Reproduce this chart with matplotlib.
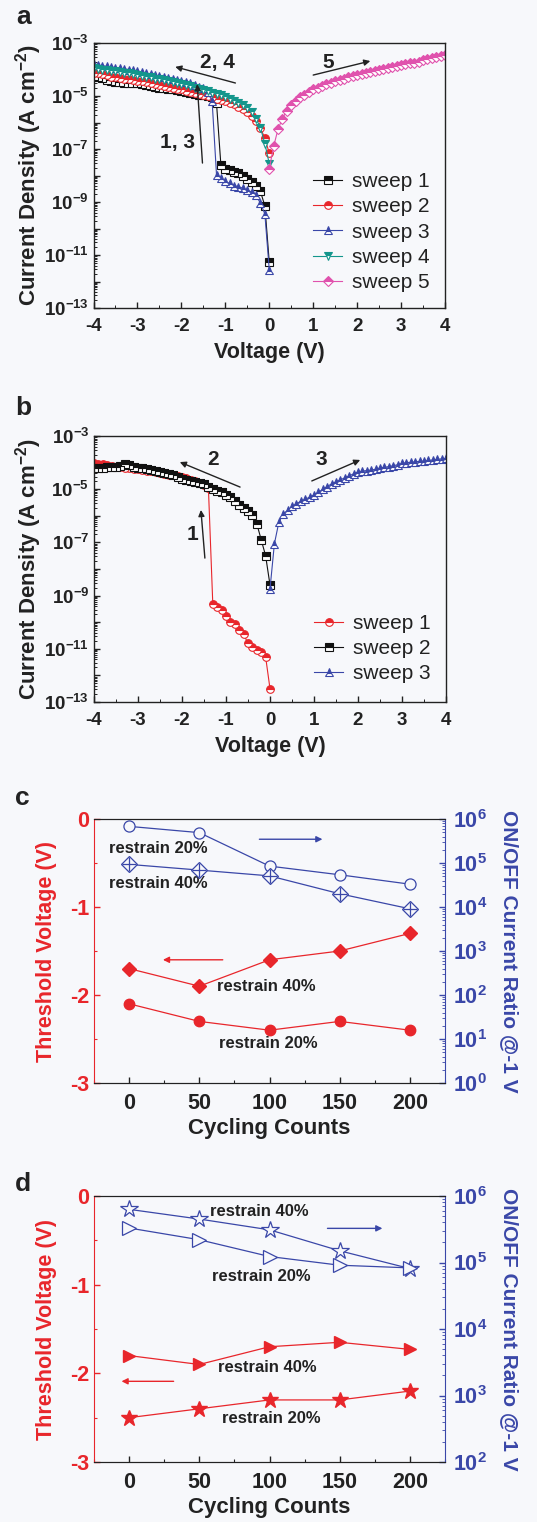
import numpy as np
import matplotlib
matplotlib.use('Agg')
import matplotlib.pyplot as plt
from matplotlib.ticker import FixedLocator, FuncFormatter, LogLocator, NullFormatter, MultipleLocator

plt.rcParams['font.family'] = ['Liberation Sans', 'DejaVu Sans']
plt.rcParams['font.weight'] = 'bold'
plt.rcParams['axes.labelweight'] = 'bold'
plt.rcParams['axes.unicode_minus'] = False
plt.rcParams['mathtext.fontset'] = 'custom'
plt.rcParams['mathtext.rm'] = 'Liberation Sans:bold'
plt.rcParams['mathtext.bf'] = 'Liberation Sans:bold'
plt.rcParams['mathtext.it'] = 'Liberation Sans:bold'
plt.rcParams['mathtext.default'] = 'rm'
for k in ['text.color', 'axes.labelcolor', 'xtick.color', 'ytick.color', 'axes.edgecolor']:
    plt.rcParams[k] = '#222222'

# ---------------- data: panel a (log10 of current density) ----------------
V_rev = np.linspace(0, -4, 41)   # 0 -> -4 V sweeps
V_fwd = np.linspace(0, 4, 41)    # 0 -> +4 V sweep

a_sweep1 = [-11.27, -9.15, -8.6, -8.4, -8.25, -8.12, -8.0, -7.9, -7.85, -7.8, -7.75, -7.62,
            -5.28, -5.05, -5.0, -4.98, -4.95, -4.92, -4.88, -4.85, -4.8, -4.78, -4.75, -4.72,
            -4.7, -4.68, -4.65, -4.62, -4.58, -4.55, -4.52, -4.52, -4.5, -4.5, -4.48, -4.47,
            -4.42, -4.38, -4.32, -4.28, -4.25]
a_sweep2 = [-7.15, -6.6, -6.2, -5.95, -5.75, -5.6, -5.5, -5.4, -5.32, -5.25, -5.2, -5.15,
            -5.1, -5.05, -5.0, -4.97, -4.93, -4.9, -4.85, -4.8, -4.75, -4.72, -4.7, -4.65,
            -4.62, -4.58, -4.55, -4.52, -4.48, -4.45, -4.42, -4.4, -4.37, -4.35, -4.32, -4.3,
            -4.27, -4.22, -4.18, -4.15, -4.12]
a_sweep3 = [-11.55, -9.45, -9.05, -8.75, -8.62, -8.55, -8.48, -8.42, -8.38, -8.3, -8.22, -8.1,
            -7.98, -5.2, -4.85, -4.7, -4.65, -4.6, -4.52, -4.48, -4.42, -4.38, -4.35, -4.32,
            -4.28, -4.25, -4.22, -4.18, -4.15, -4.1, -4.05, -4.03, -4.0, -3.98, -3.95, -3.93,
            -3.9, -3.88, -3.86, -3.83, -3.81]
a_sweep4 = [-7.55, -6.8, -6.2, -5.85, -5.6, -5.45, -5.35, -5.25, -5.18, -5.1, -5.03, -4.98,
            -4.93, -4.88, -4.83, -4.78, -4.73, -4.68, -4.63, -4.58, -4.53, -4.5, -4.47, -4.43,
            -4.4, -4.37, -4.34, -4.3, -4.27, -4.24, -4.2, -4.17, -4.14, -4.12, -4.1, -4.07,
            -4.05, -4.02, -4.0, -3.98, -3.96]
a_sweep5 = [-7.75, -6.9, -6.25, -5.85, -5.55, -5.35, -5.2, -5.05, -4.95, -4.85, -4.75, -4.68,
            -4.62, -4.55, -4.5, -4.45, -4.4, -4.35, -4.3, -4.25, -4.2, -4.17, -4.13, -4.1,
            -4.06, -4.02, -3.98, -3.95, -3.91, -3.88, -3.84, -3.81, -3.77, -3.74, -3.7, -3.66,
            -3.62, -3.58, -3.54, -3.5, -3.46]

# ---------------- data: panel b ----------------
b_sweep1 = [-12.5, -11.3, -11.12, -11.03, -10.93, -10.8, -10.45, -10.3, -10.08, -10.0, -9.78,
            -9.55, -9.42, -9.32, -4.95, -4.85, -4.78, -4.7, -4.65, -4.58, -4.53, -4.5, -4.47,
            -4.45, -4.42, -4.38, -4.35, -4.33, -4.3, -4.28, -4.25, -4.23, -4.22, -4.2, -4.18,
            -4.16, -4.13, -4.1, -4.07, -4.05, -4.03]
b_sweep2 = [-8.6, -7.5, -6.9, -6.3, -5.98, -5.83, -5.72, -5.6, -5.45, -5.3, -5.22, -5.12,
            -5.05, -4.98, -4.9, -4.82, -4.77, -4.72, -4.68, -4.65, -4.6, -4.55, -4.48, -4.42,
            -4.38, -4.35, -4.3, -4.28, -4.25, -4.22, -4.2, -4.15, -4.1, -4.05, -4.12, -4.15,
            -4.17, -4.18, -4.19, -4.2, -4.21]
b_sweep3 = [-8.75, -7.05, -6.25, -5.92, -5.8, -5.65, -5.55, -5.45, -5.38, -5.3, -5.22, -5.12,
            -5.0, -4.9, -4.8, -4.72, -4.65, -4.57, -4.5, -4.42, -4.35, -4.32, -4.3, -4.28,
            -4.25, -4.2, -4.18, -4.15, -4.12, -4.08, -4.03, -4.0, -3.99, -3.97, -3.95, -3.94,
            -3.92, -3.9, -3.88, -3.86, -3.84]

# ---------------- data: panels c, d ----------------
cycles = [0, 50, 100, 150, 200]
c_vth_40 = [-1.7, -1.9, -1.6, -1.5, -1.3]
c_vth_20 = [-2.1, -2.3, -2.4, -2.3, -2.4]
c_ratio_20 = [6.8e5, 4.9e5, 8.5e4, 5.4e4, 3.3e4]
c_ratio_40 = [9.3e4, 6.9e4, 5.1e4, 2.0e4, 9.1e3]

d_vth_40 = [-1.8, -1.9, -1.7, -1.65, -1.73]
d_vth_20 = [-2.5, -2.4, -2.3, -2.3, -2.2]
d_ratio_40 = [6.3e5, 4.5e5, 3.1e5, 1.5e5, 8.1e4]
d_ratio_20 = [3.3e5, 2.2e5, 1.23e5, 9.1e4, 8.3e4]

# ---------------- styling ----------------
BG = '#f7f8fb'
RED = '#e8262b'
BLUE = '#3a47a8'
TEAL = '#13968c'
PINK = '#e052ad'
BLACK = '#111111'
TICKFS = 13.5
LABFS = 15.5

fig = plt.figure(figsize=(5.37, 15.22), dpi=100, facecolor=BG)
W, H = 537.0, 1522.0


def add_ax(l, t, r, b):
    return fig.add_axes([l / W, 1 - b / H, (r - l) / W, (b - t) / H], facecolor=BG)


def iv_axes(ax):
    ax.set_yscale('log')
    ax.set_xlim(-4, 4)
    ax.set_ylim(1e-13, 1e-3)
    ax.set_xticks(range(-4, 5))
    ax.set_xticklabels([str(v) for v in range(-4, 5)])
    ax.xaxis.set_minor_locator(MultipleLocator(0.5))
    ax.yaxis.set_major_locator(FixedLocator([10.0 ** e for e in range(-13, -2)]))
    ax.yaxis.set_major_formatter(FuncFormatter(
        lambda v, p: (r'$10^{%d}$' % round(np.log10(v))) if round(np.log10(v)) % 2 else ''))
    ax.yaxis.set_minor_locator(LogLocator(base=10, subs=np.arange(2, 10), numticks=50))
    ax.yaxis.set_minor_formatter(NullFormatter())
    ax.tick_params(which='both', direction='in', top=False, right=False, labelsize=TICKFS)
    ax.tick_params(axis='x', which='major', pad=7)
    ax.tick_params(which='major', length=4, width=1)
    ax.tick_params(which='minor', length=2, width=0.7)
    ax.set_xlabel('Voltage (V)', fontsize=LABFS, labelpad=5)
    ax.set_ylabel(r'Current Density (A cm$^{-2}$)', fontsize=LABFS + 0.5, labelpad=0)
    for s in ax.spines.values():
        s.set_linewidth(1.0)


def sweep(ax, x, logy, color, marker, label, ms=5.5):
    ax.plot(x, 10.0 ** np.array(logy), color=color, lw=0.8, marker=marker, ms=ms,
            mew=0.8, fillstyle='top', mfc=color, mfcalt='white', mec=color, label=label)


def arrow(ax, start, end, color='#222222'):
    ax.annotate('', xy=end, xytext=start,
                arrowprops=dict(arrowstyle='-|>', color=color, lw=1.0, mutation_scale=9,
                                shrinkA=0, shrinkB=0))


LEG = dict(loc='lower left', frameon=False, handlelength=1.4, handletextpad=0.45,
           labelspacing=0.3, borderpad=0.0, borderaxespad=0.0,
           prop={'weight': 'normal', 'size': 15})

# ---------------- panel a ----------------
axa = add_ax(93.5, 43, 445, 308)
sweep(axa, V_rev, a_sweep1, BLACK, 's', 'sweep 1')
sweep(axa, V_rev, a_sweep2, RED, 'o', 'sweep 2')
sweep(axa, V_rev, a_sweep3, BLUE, '^', 'sweep 3')
sweep(axa, V_rev, a_sweep4, TEAL, 'v', 'sweep 4')
sweep(axa, V_fwd, a_sweep5, PINK, 'D', 'sweep 5', ms=5)
iv_axes(axa)
axa.text(-1.18, 10 ** -3.75, '2, 4', fontsize=15, ha='center', va='center')
arrow(axa, (-0.77, 10 ** -4.51), (-2.14, 10 ** -3.9))
axa.text(1.34, 10 ** -3.72, '5', fontsize=15, ha='center', va='center')
arrow(axa, (1.0, 10 ** -4.21), (2.3, 10 ** -3.68))
axa.text(-2.09, 10 ** -6.77, '1, 3', fontsize=15, ha='center', va='center')
arrow(axa, (-1.52, 10 ** -7.53), (-1.64, 10 ** -4.55))
axa.legend(bbox_to_anchor=(0.625, 0.06), **LEG)
fig.text(16 / W, 1 - 17 / H, 'a', fontsize=19, fontweight='bold', va='center', ha='left')

# ---------------- panel b ----------------
axb = add_ax(94, 436, 446, 702)
sweep(axb, V_rev, b_sweep1, RED, 'o', 'sweep 1')
sweep(axb, V_rev, b_sweep2, BLACK, 's', 'sweep 2')
sweep(axb, V_fwd, b_sweep3, BLUE, '^', 'sweep 3')
iv_axes(axb)
axb.text(-1.3, 10 ** -3.9, '2', fontsize=15, ha='center', va='center')
arrow(axb, (-0.68, 10 ** -4.92), (-2.05, 10 ** -3.98))
axb.text(1.16, 10 ** -3.9, '3', fontsize=15, ha='center', va='center')
arrow(axb, (0.95, 10 ** -4.69), (2.05, 10 ** -3.9))
axb.text(-1.77, 10 ** -6.72, '1', fontsize=15, ha='center', va='center')
arrow(axb, (-1.48, 10 ** -7.59), (-1.57, 10 ** -5.78))
axb.legend(bbox_to_anchor=(0.625, 0.07), **LEG)
fig.text(15 / W, 1 - 408 / H, 'b', fontsize=19, fontweight='bold', va='center', ha='left')


# ---------------- panels c, d helper ----------------
def dual_axes(ax, rlim):
    ax.set_xlim(-25, 225)
    ax.set_ylim(-3, 0)
    ax.set_xticks(cycles)
    ax.xaxis.set_minor_locator(MultipleLocator(25))
    ax.yaxis.set_major_locator(MultipleLocator(1))
    ax.yaxis.set_minor_locator(MultipleLocator(0.5))
    ax.yaxis.set_major_formatter(FuncFormatter(lambda v, p: '%d' % round(v)))
    ax.tick_params(which='both', direction='in', top=False, right=False, labelsize=TICKFS + 2)
    ax.tick_params(axis='x', which='major', pad=7)
    ax.tick_params(axis='y', which='both', colors=RED)
    ax.tick_params(which='major', length=4, width=1)
    ax.tick_params(which='minor', length=2.5, width=0.8)
    ax.spines['left'].set_color(RED)
    ax.spines['right'].set_visible(False)
    ax.set_xlabel('Cycling Counts', fontsize=LABFS + 0.5, labelpad=3)
    ax.set_ylabel('Threshold Voltage (V)', fontsize=LABFS, color=RED, labelpad=9)
    ax2 = ax.twinx()
    ax2.set_yscale('log')
    ax2.set_ylim(*rlim)
    lo, hi = int(round(np.log10(rlim[0]))), int(round(np.log10(rlim[1])))
    ax2.yaxis.set_major_locator(FixedLocator([10.0 ** e for e in range(lo, hi + 1)]))
    ax2.yaxis.set_major_formatter(FuncFormatter(lambda v, p: r'$10^{%d}$' % round(np.log10(v))))
    ax2.yaxis.set_minor_locator(LogLocator(base=10, subs=np.arange(2, 10), numticks=50))
    ax2.yaxis.set_minor_formatter(NullFormatter())
    ax2.tick_params(which='both', direction='in', colors=BLUE, labelsize=TICKFS + 2)
    ax2.tick_params(which='major', length=4, width=1, pad=6)
    ax2.tick_params(which='minor', length=2, width=0.6)
    ax2.spines['right'].set_color(BLUE)
    ax2.spines['left'].set_visible(False)
    ax2.set_ylabel('ON/OFF Current Ratio @-1 V', fontsize=LABFS - 0.5, color=BLUE,
                   rotation=270, va='bottom', labelpad=9)
    return ax2


# ---------------- panel c ----------------
axc = add_ax(94, 819, 445, 1083)
axc2 = dual_axes(axc, (1, 1e6))
axc.plot(cycles, c_vth_40, color=RED, lw=0.9, marker='D', ms=7.5, mfc=RED, mec=RED)
axc.plot(cycles, c_vth_20, color=RED, lw=0.9, marker='o', ms=7.5, mfc=RED, mec=RED)
axc2.plot(cycles, c_ratio_20, color=BLUE, lw=0.9, marker='o', ms=8, mfc=BG, mec=BLUE, mew=0.9)
axc2.plot(cycles, c_ratio_40, color=BLUE, lw=0.9, marker='D', ms=8, mfc=BG, mec=BLUE, mew=0.9)
axc2.plot(cycles, c_ratio_40, ls='none', marker='+', ms=10.5, mec=BLUE, mew=0.9)
txt = dict(fontsize=12, ha='center', va='center')
axc.text(20.6, -0.33, 'restrain 20%', **txt)
axc.text(20.6, -0.73, 'restrain 40%', **txt)
axc.text(97.5, -1.9, 'restrain 40%', **txt)
axc.text(99, -2.55, 'restrain 20%', **txt)
arrow(axc, (92.8, -0.23), (137.7, -0.23), BLUE)
arrow(axc, (66.7, -1.6), (24.1, -1.6), RED)
fig.text(15 / W, 1 - 798 / H, 'c', fontsize=19, fontweight='bold', va='center', ha='left')

# ---------------- panel d ----------------
axd = add_ax(94, 1196, 445, 1462)
axd2 = dual_axes(axd, (1e2, 1e6))
axd.plot(cycles, d_vth_40, color=RED, lw=0.9, marker='>', ms=9, mfc=RED, mec=RED)
axd.plot(cycles, d_vth_20, color=RED, lw=0.9, marker='*', ms=12, mfc=RED, mec=RED)
axd2.plot(cycles, d_ratio_40, color=BLUE, lw=0.9, marker='*', ms=13, mfc=BG, mec=BLUE, mew=0.9)
axd2.plot(cycles, d_ratio_20, color=BLUE, lw=0.9, marker='>', ms=10, mfc=BG, mec=BLUE, mew=0.9)
axd.text(92.8, -0.17, 'restrain 40%', **txt)
axd.text(94, -0.91, 'restrain 20%', **txt)
axd.text(98.7, -1.93, 'restrain 40%', **txt)
axd.text(101, -2.51, 'restrain 20%', **txt)
arrow(axd, (141.3, -0.365), (180.4, -0.365), BLUE)
arrow(axd, (31.7, -2.09), (-5.4, -2.09), RED)
fig.text(15 / W, 1 - 1184 / H, 'd', fontsize=19, fontweight='bold', va='center', ha='left')

fig.savefig('out.png', dpi=100, facecolor=BG)
